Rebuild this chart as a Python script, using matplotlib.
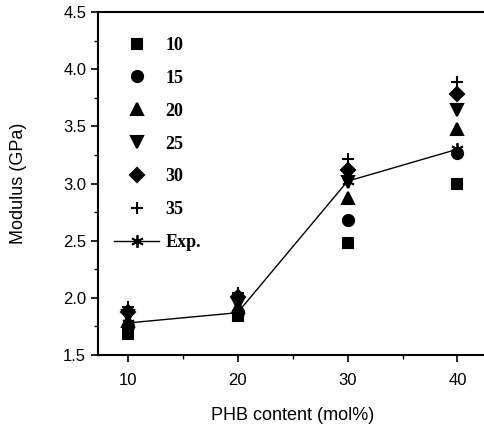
import matplotlib.pyplot as plt
from matplotlib.lines import Line2D

phb = [10, 20, 30, 40]
series_labels = ["10", "15", "20", "25", "30", "35"]
series_values = [
    [1.68, 1.84, 2.48, 3.00],
    [1.75, 1.88, 2.68, 3.27],
    [1.80, 1.92, 2.87, 3.48],
    [1.84, 1.95, 3.01, 3.64],
    [1.88, 2.01, 3.12, 3.78],
    [1.92, 2.04, 3.21, 3.89],
]
exp_values = [1.78, 1.87, 3.02, 3.30]
markers = ["s", "o", "^", "v", "D", "+"]
sizes = [7, 8, 8, 8, 7, 9]

plt.rcParams['font.family'] = ['Liberation Sans', 'DejaVu Sans']
fig = plt.figure(figsize=(4.84, 4.29), dpi=100)
ax = fig.add_axes([0.2025, 0.1725, 0.804, 0.7995])

ax.plot(phb, exp_values, color="black", lw=1.0, marker=(6, 2, 0), ms=9, mew=1.3, zorder=3)
handles = []
for lab, vals, m, s in zip(series_labels, series_values, markers, sizes):
    ax.plot(phb, vals, linestyle="none", marker=m, ms=s, color="black", mew=1.5, zorder=2)
    handles.append(Line2D([], [], linestyle="none", marker=m, ms=s, color="black", mew=1.5, label=lab))
handles.append(Line2D([], [], color="black", lw=1.0, marker=(6, 2, 0), ms=9, mew=1.3, label="Exp."))

ax.set_xlim(7.3, 42.7)
ax.set_ylim(1.5, 4.5)
ax.set_xticks([10, 20, 30, 40])
ax.set_xticks([15, 25, 35], minor=True)
ax.set_yticks([1.5, 2.0, 2.5, 3.0, 3.5, 4.0, 4.5])
ax.set_yticks([1.75, 2.25, 2.75, 3.25, 3.75, 4.25], minor=True)
ax.tick_params(which="major", direction="out", length=5, width=1.2, labelsize=12)
ax.tick_params(which="minor", direction="out", length=3, width=1.0)
ax.tick_params(axis="x", pad=8)
ax.spines["right"].set_visible(False)
for sp in ["left", "bottom", "top"]:
    ax.spines[sp].set_linewidth(1.5)

ax.set_xlabel("PHB content (mol%)", fontsize=13, labelpad=14)
ax.set_ylabel("Modulus (GPa)", fontsize=13, labelpad=26)

leg = ax.legend(handles=handles, loc="upper left", bbox_to_anchor=(0.0, 0.975),
                frameon=False, handlelength=2.5, handletextpad=0.35,
                labelspacing=0.88, borderaxespad=0.5,
                prop={"family": "Liberation Serif", "weight": "bold", "size": 13})

fig.savefig("out.png", dpi=100)
